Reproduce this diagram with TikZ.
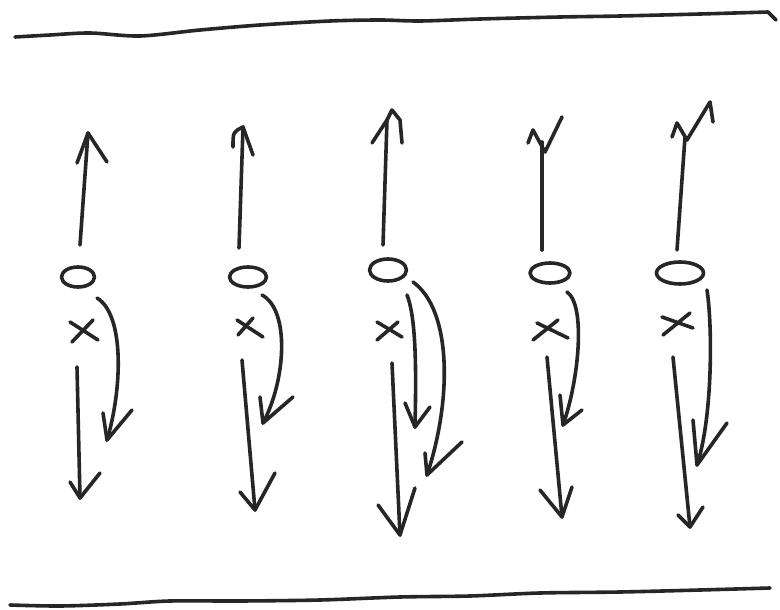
\documentclass[tikz,border=0pt]{standalone}
\usetikzlibrary{shapes.geometric}
\definecolor{ink}{HTML}{262626}
\begin{document}
\begin{tikzpicture}[x=1pt,y=-1pt,
  pen/.style={line width=3.6pt, draw=ink, line cap=round, line join=round},
  ring/.style={pen, ellipse, inner sep=0pt}]
\useasboundingbox (0,0) rectangle (780,610);
% frame lines
\draw[pen] plot[smooth] coordinates {(15,37)(50,35)(90,33)(140,36)(200,30)(260,25)(330,21)(380,20)(420,21)(480,19)(560,17)(620,16)(700,14)(768,12)} -- (776,20);
\draw[pen] plot[smooth] coordinates {(10,605)(60,606)(120,604)(170,601)(240,601)(320,600)(400,597)(470,596)(540,593)(620,592)(700,590)(770,588)};

% column 1
\coordinate (u1) at (80,245); \coordinate (t1) at (88,133);
\draw[pen] (u1) -- (t1); \draw[pen] (77,163) -- (t1) -- (107,162);
\node[ring, minimum width=33pt, minimum height=20pt] (o1) at (78,277) {};
\draw[pen] (70,322) -- (98,340); \draw[pen] (72,342) -- (93,320);
\coordinate (d1) at (77,367); \coordinate (e1) at (80,498);
\draw[pen] (d1) -- (e1); \draw[pen] (70,482) -- (e1) -- (100,473);
\coordinate (c1) at (97,298); \coordinate (f1) at (107,440);
\draw[pen] (c1) .. controls (125,315) and (122,390) .. (f1); \draw[pen] (103,413) -- (f1) -- (132,410);

% column 2
\coordinate (u2) at (239,248); \coordinate (t2) at (243,127);
\draw[pen] (u2) -- (t2); \draw[pen] (233,147) .. controls (233,132) .. (t2) -- (253,155);
\node[ring, minimum width=37pt, minimum height=20pt] (o2) at (248,277) {};
\draw[pen] (237,320) -- (263,337); \draw[pen] (238,335) -- (253,318);
\coordinate (d2) at (242,360); \coordinate (e2) at (255,510);
\draw[pen] (d2) -- (e2); \draw[pen] (240,492) -- (e2) -- (275,473);
\coordinate (c2) at (262,295); \coordinate (f2) at (263,423);
\draw[pen] (c2) .. controls (290,310) and (286,380) .. (f2); \draw[pen] (260,397) -- (f2) -- (293,397);

% column 3
\coordinate (u3) at (383,245); \coordinate (t3) at (387,120);
\draw[pen] (u3) -- (t3); \draw[pen] (372,143) -- (t3) -- (392,110) -- (400,120) -- (402,143);
\node[ring, minimum width=37pt, minimum height=22pt] (o3) at (388,270) {};
\draw[pen] (377,322) -- (402,337); \draw[pen] (377,340) -- (398,322);
\coordinate (d3) at (392,363); \coordinate (e3) at (400,535);
\draw[pen] (d3) -- (e3); \draw[pen] (378,505) -- (e3) -- (415,488);
\coordinate (c3) at (407,295); \coordinate (f3) at (415,427);
\draw[pen] (c3) .. controls (417,320) and (416,380) .. (f3); \draw[pen] (405,403) -- (f3) -- (430,407);
\coordinate (g3) at (413,282); \coordinate (h3) at (427,475);
\draw[pen] (g3) .. controls (452,310) and (452,400) .. (h3); \draw[pen] (425,453) -- (h3) -- (462,442);

% column 4
\coordinate (u4) at (542,250); \coordinate (t4) at (542,142);
\draw[pen] (u4) -- (t4); \draw[pen] (528,143) -- (533,130) -- (545,152) -- (562,117);
\node[ring, minimum width=40pt, minimum height=20pt] (o4) at (550,273) {};
\draw[pen] (537,323) -- (568,338); \draw[pen] (533,340) -- (558,320);
\coordinate (d4) at (547,357); \coordinate (e4) at (562,517);
\draw[pen] (d4) -- (e4); \draw[pen] (540,490) -- (e4) -- (572,487);
\coordinate (c4) at (567,292); \coordinate (f4) at (563,425);
\draw[pen] (c4) .. controls (586,305) and (579,380) .. (f4); \draw[pen] (560,395) -- (f4) -- (582,410);

% column 5
\coordinate (u5) at (677,250); \coordinate (t5) at (685,137);
\draw[pen] (u5) -- (t5); \draw[pen] (672,137) -- (677,123) -- (687,140) -- (710,102) -- (713,122);
\node[ring, minimum width=47pt, minimum height=22pt] (o5) at (680,273) {};
\draw[pen] (662,317) -- (693,328); \draw[pen] (663,335) -- (690,313);
\coordinate (d5) at (673,357); \coordinate (e5) at (690,527);
\draw[pen] (d5) -- (e5); \draw[pen] (678,515) -- (e5) -- (703,507);
\coordinate (c5) at (707,290); \coordinate (f5) at (697,465);
\draw[pen] (c5) .. controls (713,330) and (712,420) .. (f5); \draw[pen] (693,420) -- (f5) -- (727,423);
\end{tikzpicture}
\end{document}
